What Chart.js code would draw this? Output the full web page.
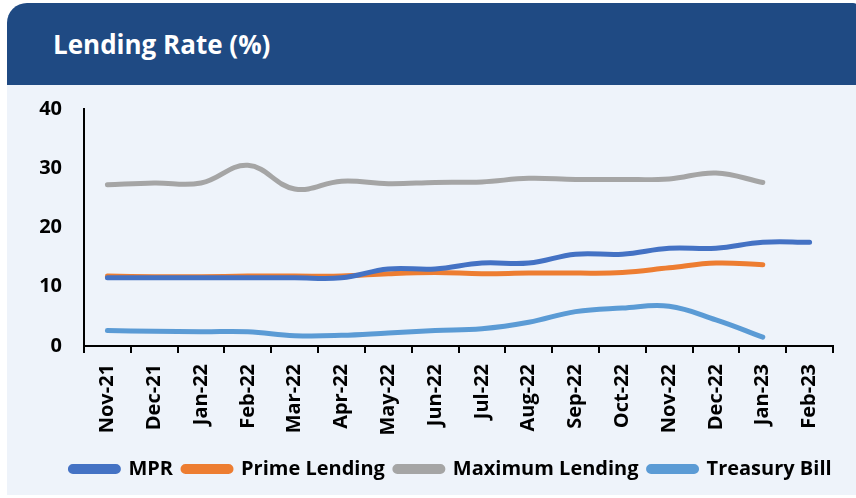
<!DOCTYPE html>
<html lang="en">
  <head>
    <meta charset="utf-8" />
    <title>Lending Rate (%)</title>
    <script src="https://cdn.jsdelivr.net/npm/chart.js/dist/chart.umd.min.js"></script>
    <style>
      * {
        margin: 0;
        padding: 0;
      }
      body {
        width: 856px;
        height: 498px;
        background: #fff;
        overflow: hidden;
        position: relative;
        font-family: "Open Sans", sans-serif;
      }
      .card {
        position: absolute;
        left: 7px;
        top: 3px;
        width: 852px;
        height: 492px;
        background: #eef3fa;
        border-radius: 20px 6px 0 0;
        overflow: hidden;
      }
      .cardHead {
        height: 82px;
        background: #1f4a83;
        color: #fff;
        font-weight: 700;
        font-size: 26px;
        line-height: 82px;
        padding-left: 46px;
        box-sizing: border-box;
      }
      .chartBox {
        position: absolute;
        left: 0;
        top: 82px;
        width: 849px;
        height: 410px;
      }
    </style>
  </head>
  <body>
    <div class="card">
      <div class="cardHead">Lending Rate (%)</div>
      <div class="chartBox">
        <canvas id="myChart"></canvas>
      </div>
    </div>

    <script>
      const months = ["Nov-21", "Dec-21", "Jan-22", "Feb-22", "Mar-22", "Apr-22", "May-22", "Jun-22",
        "Jul-22", "Aug-22", "Sep-22", "Oct-22", "Nov-22", "Dec-22", "Jan-23", "Feb-23"];
      const mpr = [11.5, 11.5, 11.5, 11.5, 11.5, 11.5, 13, 13, 14, 14, 15.5, 15.5, 16.5, 16.5, 17.5, 17.5];
      const primeLending = [11.8, 11.7, 11.7, 11.8, 11.8, 11.8, 12.2, 12.4, 12.2, 12.3, 12.3, 12.4, 13.2, 14.0, 13.7, null];
      const maxLending = [27.2, 27.5, 27.5, 30.5, 26.5, 27.8, 27.4, 27.6, 27.7, 28.3, 28.1, 28.1, 28.2, 29.2, 27.6, null];
      const treasuryBill = [2.6, 2.5, 2.4, 2.4, 1.75, 1.8, 2.2, 2.6, 2.9, 4.0, 5.8, 6.4, 6.7, 4.4, 1.5, null];
      const yTicks = [0, 10, 20, 30, 40];

      Chart.defaults.font.family = "'Open Sans', sans-serif";
      Chart.defaults.font.weight = "bold";
      Chart.defaults.color = "#000";

      function series(label, values, color) {
        return {
          label,
          data: values,
          borderColor: color,
          backgroundColor: color,
          borderWidth: 5,
          borderCapStyle: "round",
          borderJoinStyle: "round",
          tension: 0.4,
          pointRadius: 0,
          pointHoverRadius: 0,
        };
      }

      const data = {
        labels: months,
        datasets: [
          series("MPR", mpr, "#4472c4"),
          series("Prime Lending", primeLending, "#ed7d31"),
          series("Maximum Lending", maxLending, "#a5a5a5"),
          series("Treasury Bill", treasuryBill, "#5b9bd5"),
        ],
      };

      // nudge the legend so it sits where the original does
      const legendShift = {
        id: "legendShift",
        afterLayout(chart) {
          const lg = chart.legend;
          if (lg) {
            lg.left += 15;
            lg.right += 15;
          }
        },
      };

      const config = {
        type: "line",
        data,
        options: {
          responsive: true,
          maintainAspectRatio: false,
          animation: false,
          layout: {
            padding: { left: 32, right: 23, top: 24, bottom: 6 },
          },
          scales: {
            x: {
              offset: true,
              grid: {
                offset: true,
                drawOnChartArea: false,
                drawTicks: true,
                tickLength: 7,
                color: "#000",
                lineWidth: 2,
              },
              border: { color: "#000", width: 2 },
              ticks: {
                maxRotation: 90,
                minRotation: 90,
                padding: 11,
                font: { size: 20, weight: "bold" },
              },
              afterFit(scale) {
                scale.height = 103;
              },
            },
            y: {
              min: yTicks[0],
              max: yTicks[yTicks.length - 1],
              grid: { display: false, drawTicks: false },
              border: { color: "#000", width: 2 },
              ticks: {
                stepSize: yTicks[1] - yTicks[0],
                padding: 22,
                font: { size: 20, weight: "bold" },
              },
              afterFit(scale) {
                scale.width = 45;
                scale.paddingTop = 0;
                scale.paddingBottom = 0;
              },
            },
          },
          plugins: {
            legend: {
              position: "bottom",
              labels: {
                boxWidth: 48,
                boxHeight: 5,
                useBorderRadius: true,
                borderRadius: 2.5,
                padding: 10,
                font: { size: 20, weight: "bold" },
              },
            },
            tooltip: { enabled: false },
          },
        },
        plugins: [legendShift],
      };

      const myChart = new Chart(document.getElementById("myChart"), config);
    </script>
  </body>
</html>
